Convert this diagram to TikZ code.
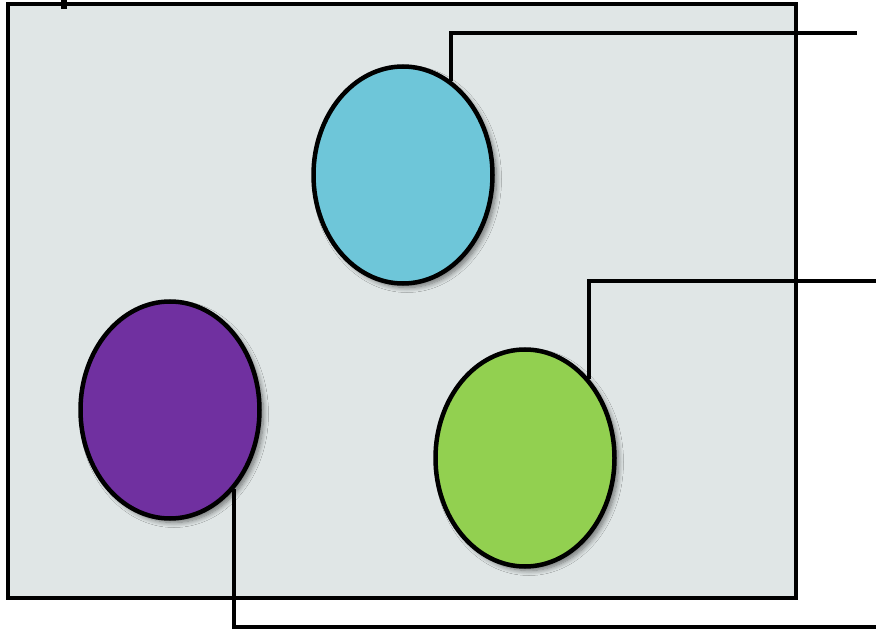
\documentclass[tikz,border=0pt]{standalone}
\usepackage{tikz}
\usetikzlibrary{shapes.geometric,shadows.blur}

\definecolor{panel}{HTML}{E0E6E6}
\definecolor{skyblue}{HTML}{6EC6D9}
\definecolor{grape}{HTML}{7030A0}
\definecolor{lime}{HTML}{92D050}

\tikzset{
  blob/.style={ellipse, draw=black, line width=4.5pt, inner sep=0pt,
    minimum width=179pt, minimum height=217pt,
    blur shadow={shadow xshift=4pt, shadow yshift=-4pt, shadow blur radius=5pt, shadow blur steps=8, shadow opacity=50}},
  lead/.style={line width=4.5pt}
}

\begin{document}
\begin{tikzpicture}[x=1pt, y=-1pt]
    \useasboundingbox (0,0) rectangle (876,631);

    % Panel & tick
    \draw[lead, fill=panel] (8,4) rectangle (796,598);
    \draw[line width=6pt] (64,0) -- (64,9);

    % Ellipses
    \node[blob, fill=skyblue] (blue)   at (403,175) {};
    \node[blob, fill=grape]   (purple) at (170,410) {};
    \node[blob, fill=lime]    (green)  at (525,458) {};

    % Leader ends
    \coordinate (tagB) at (857,33);
    \coordinate (tagG) at (876,281);
    \coordinate (tagP) at (876,627);

    % Leaders
    \draw[lead] (blue.63)   |- (tagB);
    \draw[lead] (green.51)  |- (tagG);
    \draw[lead] (purple.-51) |- (tagP);
\end{tikzpicture}
\end{document}
